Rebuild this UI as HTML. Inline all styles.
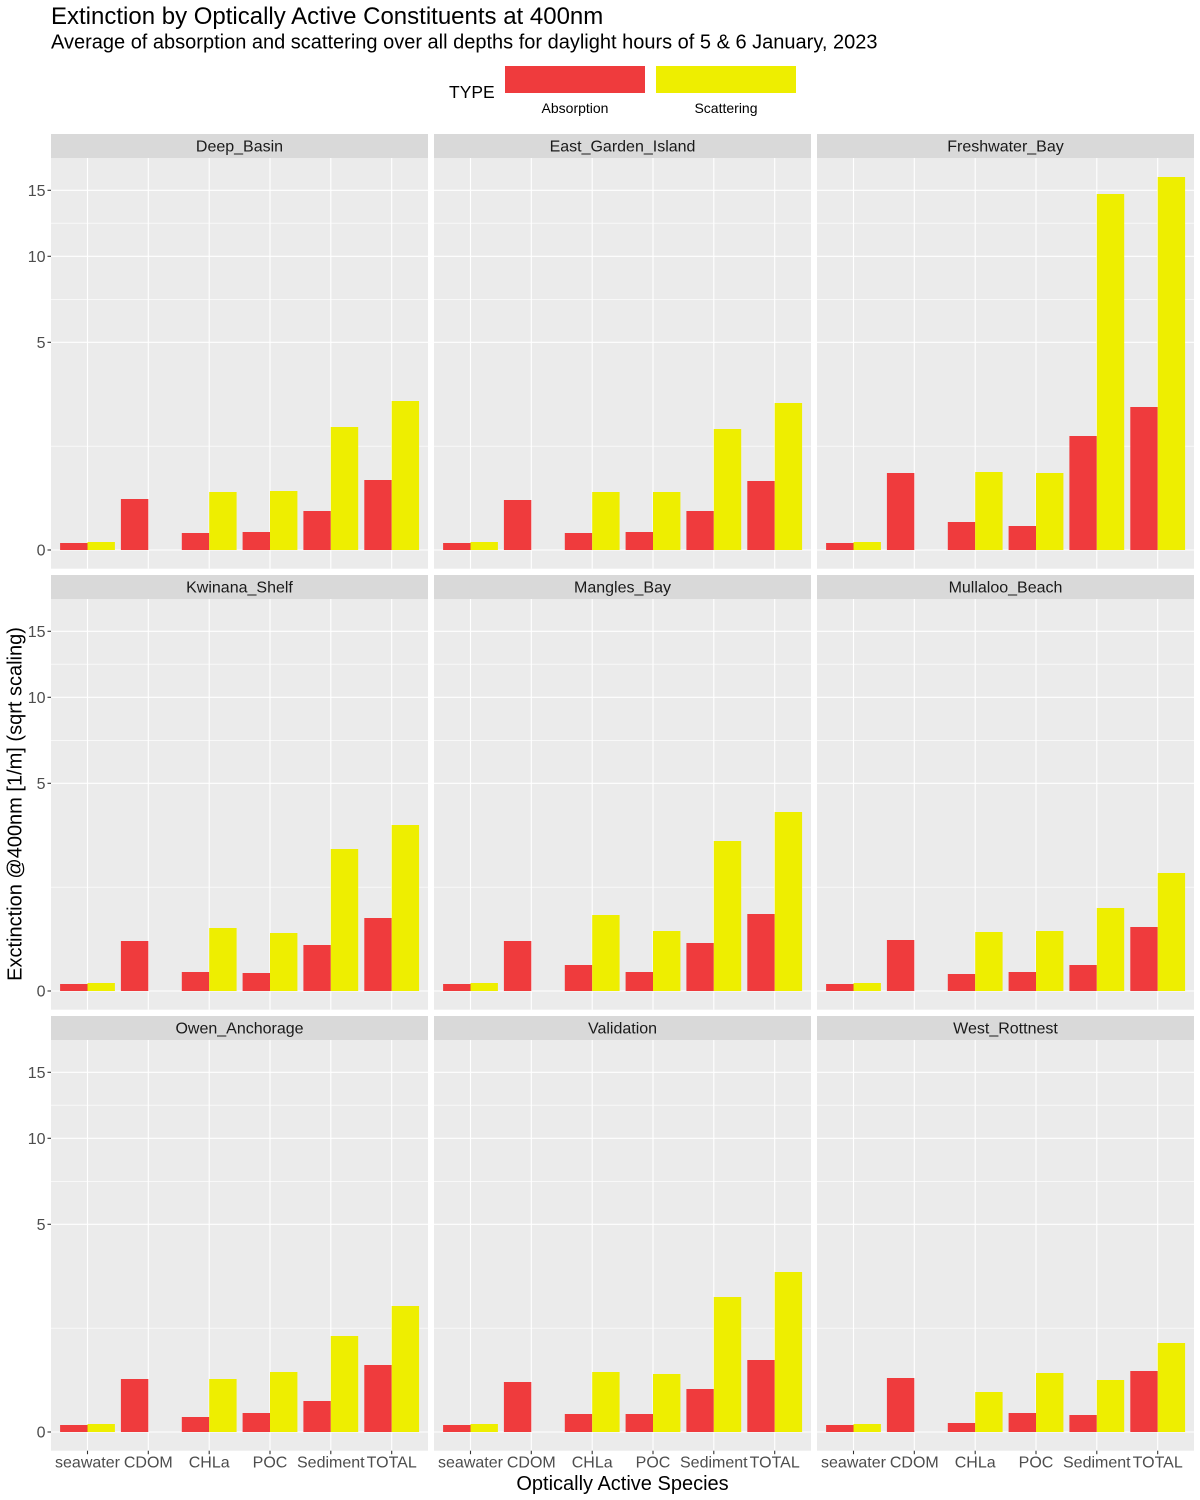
<!DOCTYPE html>
<html><head><meta charset="utf-8"><style>
html,body{margin:0;padding:0;background:#fff;}
svg{display:block;font-family:"Liberation Sans",Arial,sans-serif;}
</style></head><body>
<svg width="1200" height="1500" viewBox="0 0 1200 1500" xmlns="http://www.w3.org/2000/svg">
<defs>
<g id="bg">
<rect x="0" y="-392" width="377" height="410.7" fill="#EBEBEB"/>
<g stroke="#fff" stroke-width="0.55">
<line x1="0" x2="377" y1="-103.8" y2="-103.8"/>
<line x1="0" x2="377" y1="-250.7" y2="-250.7"/>
<line x1="0" x2="377" y1="-326.8" y2="-326.8"/>
</g>
<g stroke="#fff" stroke-width="1.1">
<line x1="0" x2="377" y1="0" y2="0"/>
<line x1="0" x2="377" y1="-207.7" y2="-207.7"/>
<line x1="0" x2="377" y1="-293.7" y2="-293.7"/>
<line x1="0" x2="377" y1="-359.7" y2="-359.7"/>
<line x1="36.5" x2="36.5" y1="-392" y2="18.7"/>
<line x1="97.3" x2="97.3" y1="-392" y2="18.7"/>
<line x1="158.2" x2="158.2" y1="-392" y2="18.7"/>
<line x1="219" x2="219" y1="-392" y2="18.7"/>
<line x1="279.8" x2="279.8" y1="-392" y2="18.7"/>
<line x1="340.7" x2="340.7" y1="-392" y2="18.7"/>
</g>
<rect x="0" y="-416" width="377" height="24" fill="#D9D9D9"/>
</g>
<g id="yax" font-size="16" fill="#4D4D4D" text-anchor="end">
<text x="-5.5" y="5.5">0</text>
<text x="-5.5" y="-202.2">5</text>
<text x="-5.5" y="-288.2">10</text>
<text x="-5.5" y="-354.2">15</text>
<g stroke="#333" stroke-width="1.1">
<line x1="-3.5" x2="0" y1="0" y2="0"/>
<line x1="-3.5" x2="0" y1="-207.7" y2="-207.7"/>
<line x1="-3.5" x2="0" y1="-293.7" y2="-293.7"/>
<line x1="-3.5" x2="0" y1="-359.7" y2="-359.7"/>
</g>
</g>
<g id="xax">
<g stroke="#333" stroke-width="1.1">
<line x1="36.5" x2="36.5" y1="18.7" y2="22.2"/>
<line x1="97.3" x2="97.3" y1="18.7" y2="22.2"/>
<line x1="158.2" x2="158.2" y1="18.7" y2="22.2"/>
<line x1="219" x2="219" y1="18.7" y2="22.2"/>
<line x1="279.8" x2="279.8" y1="18.7" y2="22.2"/>
<line x1="340.7" x2="340.7" y1="18.7" y2="22.2"/>
</g>
<g font-size="16" fill="#4D4D4D" text-anchor="middle">
<text x="36.5" y="35.5">seawater</text>
<text x="97.3" y="35.5">CDOM</text>
<text x="158.2" y="35.5">CHLa</text>
<text x="219" y="35.5">POC</text>
<text x="279.8" y="35.5">Sediment</text>
<text x="340.7" y="35.5">TOTAL</text>
</g>
</g>
</defs>

<!-- Titles -->
<text x="51" y="24" font-size="24" fill="#000">Extinction by Optically Active Constituents at 400nm</text>
<text x="51" y="48.5" font-size="20" fill="#000">Average of absorption and scattering over all depths for daylight hours of 5 &amp; 6 January, 2023</text>

<!-- Legend -->
<text x="449" y="98" font-size="17.5" fill="#000">TYPE</text>
<rect x="505" y="66" width="140" height="27" fill="#EF3B3D"/>
<rect x="656" y="66" width="140" height="27" fill="#EEEE00"/>
<text x="575" y="113" font-size="14" fill="#000" text-anchor="middle">Absorption</text>
<text x="726" y="113" font-size="14" fill="#000" text-anchor="middle">Scattering</text>

<!-- Row 1 -->
<g transform="translate(51,550)">
<use href="#bg"/><use href="#yax"/>
<text x="188.5" y="-398.5" font-size="16" fill="#1A1A1A" text-anchor="middle">Deep_Basin</text>
<g fill="#EF3B3D">
<rect x="9.1" y="-7" width="27.4" height="7"/><rect x="69.9" y="-51" width="27.4" height="51"/><rect x="130.8" y="-17" width="27.4" height="17"/><rect x="191.6" y="-18" width="27.4" height="18"/><rect x="252.4" y="-39" width="27.4" height="39"/><rect x="313.3" y="-70" width="27.4" height="70"/>
</g>
<g fill="#EEEE00">
<rect x="36.5" y="-8" width="27.4" height="8"/><rect x="158.2" y="-58" width="27.4" height="58"/><rect x="219" y="-59" width="27.4" height="59"/><rect x="279.8" y="-123" width="27.4" height="123"/><rect x="340.7" y="-149" width="27.4" height="149"/>
</g>
</g>
<g transform="translate(434,550)">
<use href="#bg"/>
<text x="188.5" y="-398.5" font-size="16" fill="#1A1A1A" text-anchor="middle">East_Garden_Island</text>
<g fill="#EF3B3D">
<rect x="9.1" y="-7" width="27.4" height="7"/><rect x="69.9" y="-50" width="27.4" height="50"/><rect x="130.8" y="-17" width="27.4" height="17"/><rect x="191.6" y="-18" width="27.4" height="18"/><rect x="252.4" y="-39" width="27.4" height="39"/><rect x="313.3" y="-69" width="27.4" height="69"/>
</g>
<g fill="#EEEE00">
<rect x="36.5" y="-8" width="27.4" height="8"/><rect x="158.2" y="-58" width="27.4" height="58"/><rect x="219" y="-58" width="27.4" height="58"/><rect x="279.8" y="-121" width="27.4" height="121"/><rect x="340.7" y="-147" width="27.4" height="147"/>
</g>
</g>
<g transform="translate(817,550)">
<use href="#bg"/>
<text x="188.5" y="-398.5" font-size="16" fill="#1A1A1A" text-anchor="middle">Freshwater_Bay</text>
<g fill="#EF3B3D">
<rect x="9.1" y="-7" width="27.4" height="7"/><rect x="69.9" y="-77" width="27.4" height="77"/><rect x="130.8" y="-28" width="27.4" height="28"/><rect x="191.6" y="-24" width="27.4" height="24"/><rect x="252.4" y="-114" width="27.4" height="114"/><rect x="313.3" y="-143" width="27.4" height="143"/>
</g>
<g fill="#EEEE00">
<rect x="36.5" y="-8" width="27.4" height="8"/><rect x="158.2" y="-78" width="27.4" height="78"/><rect x="219" y="-77" width="27.4" height="77"/><rect x="279.8" y="-356" width="27.4" height="356"/><rect x="340.7" y="-373" width="27.4" height="373"/>
</g>
</g>

<!-- Row 2 -->
<g transform="translate(51,991)">
<use href="#bg"/><use href="#yax"/>
<text x="188.5" y="-398.5" font-size="16" fill="#1A1A1A" text-anchor="middle">Kwinana_Shelf</text>
<g fill="#EF3B3D">
<rect x="9.1" y="-7" width="27.4" height="7"/><rect x="69.9" y="-50" width="27.4" height="50"/><rect x="130.8" y="-19" width="27.4" height="19"/><rect x="191.6" y="-18" width="27.4" height="18"/><rect x="252.4" y="-46" width="27.4" height="46"/><rect x="313.3" y="-73" width="27.4" height="73"/>
</g>
<g fill="#EEEE00">
<rect x="36.5" y="-8" width="27.4" height="8"/><rect x="158.2" y="-63" width="27.4" height="63"/><rect x="219" y="-58" width="27.4" height="58"/><rect x="279.8" y="-142" width="27.4" height="142"/><rect x="340.7" y="-166" width="27.4" height="166"/>
</g>
</g>
<g transform="translate(434,991)">
<use href="#bg"/>
<text x="188.5" y="-398.5" font-size="16" fill="#1A1A1A" text-anchor="middle">Mangles_Bay</text>
<g fill="#EF3B3D">
<rect x="9.1" y="-7" width="27.4" height="7"/><rect x="69.9" y="-50" width="27.4" height="50"/><rect x="130.8" y="-26" width="27.4" height="26"/><rect x="191.6" y="-19" width="27.4" height="19"/><rect x="252.4" y="-48" width="27.4" height="48"/><rect x="313.3" y="-77" width="27.4" height="77"/>
</g>
<g fill="#EEEE00">
<rect x="36.5" y="-8" width="27.4" height="8"/><rect x="158.2" y="-76" width="27.4" height="76"/><rect x="219" y="-60" width="27.4" height="60"/><rect x="279.8" y="-150" width="27.4" height="150"/><rect x="340.7" y="-179" width="27.4" height="179"/>
</g>
</g>
<g transform="translate(817,991)">
<use href="#bg"/>
<text x="188.5" y="-398.5" font-size="16" fill="#1A1A1A" text-anchor="middle">Mullaloo_Beach</text>
<g fill="#EF3B3D">
<rect x="9.1" y="-7" width="27.4" height="7"/><rect x="69.9" y="-51" width="27.4" height="51"/><rect x="130.8" y="-17" width="27.4" height="17"/><rect x="191.6" y="-19" width="27.4" height="19"/><rect x="252.4" y="-26" width="27.4" height="26"/><rect x="313.3" y="-64" width="27.4" height="64"/>
</g>
<g fill="#EEEE00">
<rect x="36.5" y="-8" width="27.4" height="8"/><rect x="158.2" y="-59" width="27.4" height="59"/><rect x="219" y="-60" width="27.4" height="60"/><rect x="279.8" y="-83" width="27.4" height="83"/><rect x="340.7" y="-118" width="27.4" height="118"/>
</g>
</g>

<!-- Row 3 -->
<g transform="translate(51,1432)">
<use href="#bg"/><use href="#yax"/><use href="#xax"/>
<text x="188.5" y="-398.5" font-size="16" fill="#1A1A1A" text-anchor="middle">Owen_Anchorage</text>
<g fill="#EF3B3D">
<rect x="9.1" y="-7" width="27.4" height="7"/><rect x="69.9" y="-53" width="27.4" height="53"/><rect x="130.8" y="-15" width="27.4" height="15"/><rect x="191.6" y="-19" width="27.4" height="19"/><rect x="252.4" y="-31" width="27.4" height="31"/><rect x="313.3" y="-67" width="27.4" height="67"/>
</g>
<g fill="#EEEE00">
<rect x="36.5" y="-8" width="27.4" height="8"/><rect x="158.2" y="-53" width="27.4" height="53"/><rect x="219" y="-60" width="27.4" height="60"/><rect x="279.8" y="-96" width="27.4" height="96"/><rect x="340.7" y="-126" width="27.4" height="126"/>
</g>
</g>
<g transform="translate(434,1432)">
<use href="#bg"/><use href="#xax"/>
<text x="188.5" y="-398.5" font-size="16" fill="#1A1A1A" text-anchor="middle">Validation</text>
<g fill="#EF3B3D">
<rect x="9.1" y="-7" width="27.4" height="7"/><rect x="69.9" y="-50" width="27.4" height="50"/><rect x="130.8" y="-18" width="27.4" height="18"/><rect x="191.6" y="-18" width="27.4" height="18"/><rect x="252.4" y="-43" width="27.4" height="43"/><rect x="313.3" y="-72" width="27.4" height="72"/>
</g>
<g fill="#EEEE00">
<rect x="36.5" y="-8" width="27.4" height="8"/><rect x="158.2" y="-60" width="27.4" height="60"/><rect x="219" y="-58" width="27.4" height="58"/><rect x="279.8" y="-135" width="27.4" height="135"/><rect x="340.7" y="-160" width="27.4" height="160"/>
</g>
</g>
<g transform="translate(817,1432)">
<use href="#bg"/><use href="#xax"/>
<text x="188.5" y="-398.5" font-size="16" fill="#1A1A1A" text-anchor="middle">West_Rottnest</text>
<g fill="#EF3B3D">
<rect x="9.1" y="-7" width="27.4" height="7"/><rect x="69.9" y="-54" width="27.4" height="54"/><rect x="130.8" y="-9" width="27.4" height="9"/><rect x="191.6" y="-19" width="27.4" height="19"/><rect x="252.4" y="-17" width="27.4" height="17"/><rect x="313.3" y="-61" width="27.4" height="61"/>
</g>
<g fill="#EEEE00">
<rect x="36.5" y="-8" width="27.4" height="8"/><rect x="158.2" y="-40" width="27.4" height="40"/><rect x="219" y="-59" width="27.4" height="59"/><rect x="279.8" y="-52" width="27.4" height="52"/><rect x="340.7" y="-89" width="27.4" height="89"/>
</g>
</g>

<!-- Axis titles -->
<text x="622.5" y="1490" font-size="20" fill="#000" text-anchor="middle">Optically Active Species</text>
<text transform="translate(21.5,804) rotate(-90)" x="0" y="0" font-size="20" fill="#000" text-anchor="middle">Exctinction @400nm [1/m] (sqrt scaling)</text>
</svg>
</body></html>
